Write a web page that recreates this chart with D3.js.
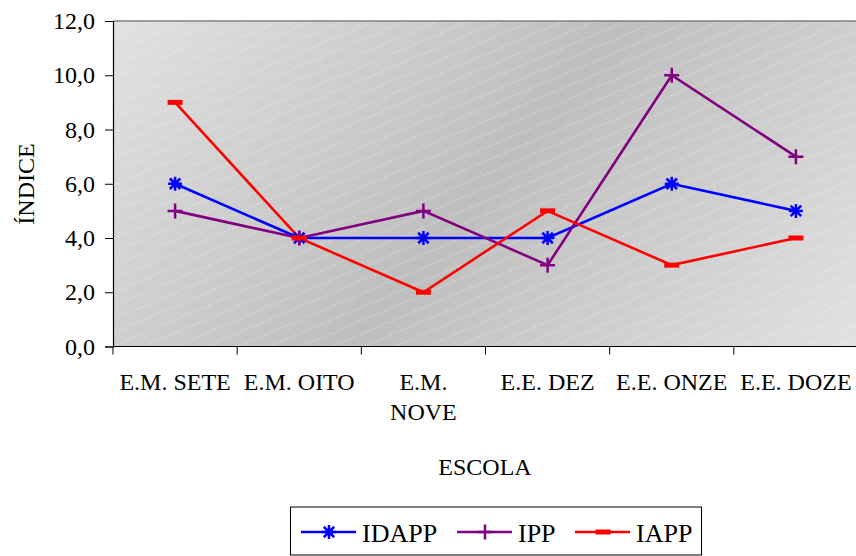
<!DOCTYPE html>
<html>
<head>
<meta charset="utf-8">
<script src="https://cdn.jsdelivr.net/npm/d3@7"></script>
<style>
  html, body { margin: 0; padding: 0; background: #fff; }
</style>
</head>
<body>
<svg id="chart" width="856" height="556"></svg>
<script>
// Schools along the horizontal axis
const escolas = ["E.M. SETE", "E.M. OITO", "E.M. NOVE", "E.E. DEZ", "E.E. ONZE", "E.E. DOZE"];
// Index values per series
const idapp = [6, 4, 4, 4, 6, 5];
const ipp   = [5, 4, 5, 3, 10, 7];
const iapp  = [9, 4, 2, 5, 3, 4];
const yTicks = [0, 2, 4, 6, 8, 10, 12];

const series = [
  { name: "IDAPP", values: idapp, color: "#0000ff", marker: "star" },
  { name: "IPP",   values: ipp,   color: "#800080", marker: "plus" },
  { name: "IAPP",  values: iapp,  color: "#ff0000", marker: "dash" }
];

const FONT = '"Liberation Serif", "Times New Roman", serif';
const FS = 24;
const svg = d3.select("#chart");
const plot = { left: 113, top: 21, right: 858, bottom: 346.5 };

const x = d3.scaleBand().domain(escolas).range([plot.left, plot.right]);
const y = d3.scaleLinear().domain([0, 12]).range([plot.bottom, plot.top]);
const cx = d => x(d) + x.bandwidth() / 2;

// Plot-area fill: diagonal grey gradient with a faint dotted hatch
const defs = svg.append("defs");
const grad = defs.append("linearGradient").attr("id", "bg")
  .attr("gradientUnits", "userSpaceOnUse")
  .attr("x1", plot.left).attr("y1", plot.top - 150)
  .attr("x2", plot.right).attr("y2", plot.bottom + 150);
grad.append("stop").attr("offset", 0).attr("stop-color", "#eaeaea");
grad.append("stop").attr("offset", 0.5).attr("stop-color", "#bebebe");
grad.append("stop").attr("offset", 1).attr("stop-color", "#eaeaea");

const hatch = defs.append("pattern").attr("id", "hatch")
  .attr("patternUnits", "userSpaceOnUse")
  .attr("width", 40).attr("height", 12.3)
  .attr("patternTransform", "rotate(-23)");
hatch.append("line")
  .attr("x1", 0).attr("x2", 40).attr("y1", 6).attr("y2", 6)
  .attr("stroke", "#ffffff").attr("stroke-opacity", 0.45)
  .attr("stroke-width", 1).attr("stroke-dasharray", "2,2");

svg.append("rect")
  .attr("x", plot.left).attr("y", plot.top)
  .attr("width", plot.right - plot.left).attr("height", plot.bottom - plot.top)
  .attr("fill", "url(#bg)");
svg.append("rect")
  .attr("x", plot.left).attr("y", plot.top)
  .attr("width", plot.right - plot.left).attr("height", plot.bottom - plot.top)
  .attr("fill", "url(#hatch)");

// Top border of the plot area
svg.append("line")
  .attr("x1", plot.left).attr("x2", plot.right)
  .attr("y1", plot.top).attr("y2", plot.top)
  .attr("stroke", "#808080").attr("stroke-width", 1.5);

// Y axis
const yAxis = d3.axisLeft(y).tickValues(yTicks).tickSize(8).tickPadding(10)
  .tickFormat(d => d3.format(".1f")(d).replace(".", ","));
const gy = svg.append("g").attr("transform", `translate(${plot.left},0)`).call(yAxis);
gy.select(".domain").attr("stroke", "#000").attr("stroke-width", 1.2);
gy.selectAll(".tick line").attr("stroke", "#000");
gy.selectAll(".tick text").attr("fill", "#000")
  .style("font-family", FONT).style("font-size", FS + "px");

// X axis: ticks at the category boundaries
const gx = svg.append("g");
gx.append("line")
  .attr("x1", plot.left).attr("x2", plot.right)
  .attr("y1", plot.bottom).attr("y2", plot.bottom)
  .attr("stroke", "#000").attr("stroke-width", 1.2);
gx.selectAll("line.tk").data(escolas).join("line").attr("class", "tk")
  .attr("x1", d => x(d)).attr("x2", d => x(d))
  .attr("y1", plot.bottom).attr("y2", plot.bottom + 8)
  .attr("stroke", "#000");

// Category labels, wrapped where they do not fit
const wrapped = { "E.M. NOVE": ["E.M.", "NOVE"] };
gx.selectAll("text.cat").data(escolas).join("text").attr("class", "cat")
  .attr("x", d => cx(d)).attr("y", 390)
  .attr("text-anchor", "middle").attr("fill", "#000")
  .style("font-family", FONT).style("font-size", FS + "px")
  .each(function (d) {
    const lines = wrapped[d] || [d];
    d3.select(this).selectAll("tspan").data(lines).join("tspan")
      .attr("x", cx(d)).attr("dy", (l, i) => i === 0 ? 0 : 30)
      .text(l => l);
  });

// Axis titles
svg.append("text").attr("x", 485).attr("y", 475)
  .attr("text-anchor", "middle")
  .style("font-family", FONT).style("font-size", FS + "px").text("ESCOLA");
svg.append("text")
  .attr("transform", "translate(34,184) rotate(-90)")
  .attr("text-anchor", "middle")
  .style("font-family", FONT).style("font-size", FS + "px").text("ÍNDICE");

// Marker shapes
function drawMarker(g, type, color) {
  if (type === "star") {
    const r = 7;
    g.append("path")
      .attr("d", `M${-r},0H${r}M0,${-r}V${r}M${-r*0.75},${-r*0.75}L${r*0.75},${r*0.75}M${-r*0.75},${r*0.75}L${r*0.75},${-r*0.75}`)
      .attr("stroke", color).attr("stroke-width", 2.5).attr("fill", "none");
  } else if (type === "plus") {
    const r = 7.5;
    g.append("path")
      .attr("d", `M${-r},0H${r}M0,${-r}V${r}`)
      .attr("stroke", color).attr("stroke-width", 2.5).attr("fill", "none");
  } else {
    g.append("rect").attr("x", -7.5).attr("y", -2.5).attr("width", 15).attr("height", 5)
      .attr("fill", color);
  }
}

// Series lines and markers
const line = d3.line().x((v, i) => cx(escolas[i])).y(v => y(v));
series.forEach(s => {
  svg.append("path").datum(s.values)
    .attr("d", line).attr("fill", "none")
    .attr("stroke", s.color).attr("stroke-width", 2.6);
});
series.forEach(s => {
  s.values.forEach((v, i) => {
    const g = svg.append("g").attr("transform", `translate(${cx(escolas[i])},${y(v)})`);
    drawMarker(g, s.marker, s.color);
  });
});

// Legend
const legend = svg.append("g");
legend.append("rect").attr("x", 290.5).attr("y", 507).attr("width", 411).attr("height", 48)
  .attr("fill", "#fff").attr("stroke", "#000").attr("stroke-width", 1);
const legX = [301, 457, 575];
series.forEach((s, i) => {
  const g = legend.append("g").attr("transform", `translate(${legX[i]},532)`);
  g.append("line").attr("x1", 0).attr("x2", 55).attr("stroke", s.color).attr("stroke-width", 2.6);
  const m = g.append("g").attr("transform", "translate(28,0)");
  drawMarker(m, s.marker, s.color);
  g.append("text").attr("x", 61).attr("y", 9.5)
    .style("font-family", FONT).style("font-size", "26px").text(s.name);
});
</script>
</body>
</html>
